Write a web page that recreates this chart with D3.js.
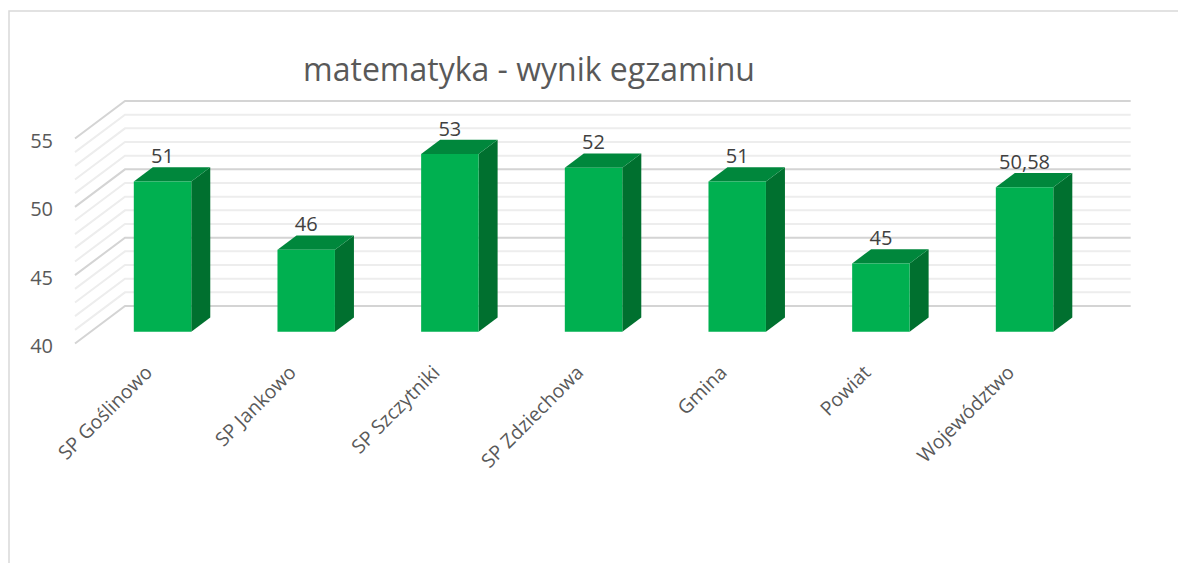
<!DOCTYPE html>
<html>
<head>
<meta charset="utf-8">
<script src="https://cdn.jsdelivr.net/npm/d3@7"></script>
<style>
  html, body { margin: 0; padding: 0; background: #fff; }
  svg text { font-family: "Open Sans", "Noto Sans", sans-serif; fill: #595959; }
</style>
</head>
<body>
<svg id="chart" width="1178" height="563"></svg>
<script>
// data
var categories = ["SP Goślinowo", "SP Jankowo", "SP Szczytniki", "SP Zdziechowa", "Gmina", "Powiat", "Województwo"]
  , values = [51, 46, 53, 52, 51, 45, 50.58]
  , valueLabels = ["51", "46", "53", "52", "51", "45", "50,58"]
  , yTicks = [40, 45, 50, 55]
  , title = "matematyka - wynik egzaminu"
;

var svg = d3.select("#chart")
  , wall = { left: 125, right: 1130.7, top: 101, bottom: 306 }
  , depth = { dx: -50, dy: 37.5 }     // offset from back wall to front of side wall
  , zFront = 0.686, zBack = 0.306     // bar faces, as share of the depth
  , colors = { front: "#00B050", top: "#00873C", side: "#00702F" }
;

var y = d3.scaleLinear().domain([40, 55]).range([wall.bottom, wall.top])
  , x = d3.scaleBand().domain(categories).range([wall.left, wall.right])
        .paddingInner(0.6).paddingOuter(0.3)
;

// project a back-wall point forward by share k of the depth
function proj(px, py, k) { return [px + k * depth.dx, py + k * depth.dy]; }

// chart frame
svg.append("path")
    .attr("d", "M9,563V11H1178")
    .attr("fill", "none")
    .attr("stroke", "#d9d9d9")
    .attr("stroke-width", 1.5)
;

// gridlines: back wall + left side wall
var minor = d3.range(40, 55.001, 1);
var grid = svg.append("g").attr("class", "grid");
grid.selectAll("path")
    .data(minor)
  .enter().append("path")
    .attr("d", function(v) {
        var a = proj(wall.left, y(v), 1);
        return "M" + a + "L" + [wall.left, y(v)] + "H" + wall.right;
      })
    .attr("fill", "none")
    .attr("stroke", function(v) { return v % 5 === 0 ? "#d4d4d4" : "#ededed"; })
    .attr("stroke-width", 2)
;

// y axis labels
svg.append("g").selectAll("text")
    .data(yTicks)
  .enter().append("text")
    .attr("x", 53)
    .attr("y", function(v) { return proj(0, y(v), 1)[1] + 2; })
    .attr("text-anchor", "end")
    .attr("dominant-baseline", "central")
    .style("font-size", "20px")
    .text(function(v) { return v; })
;

// bars
var bars = svg.append("g").selectAll("g")
    .data(categories.map(function(c, i) { return { cat: c, value: values[i], label: valueLabels[i] }; }))
  .enter().append("g")
;

function face(d, pts) {
    return "M" + pts.map(function(p) { return proj(p[0], p[1], p[2]); }).join("L") + "Z";
}

bars.append("path") // side
    .attr("d", function(d) {
        var x1 = x(d.cat) + x.bandwidth();
        return face(d, [[x1, y(40), zFront], [x1, y(d.value), zFront], [x1, y(d.value), zBack], [x1, y(40), zBack]]);
      })
    .attr("fill", colors.side)
;
bars.append("path") // top
    .attr("d", function(d) {
        var x0 = x(d.cat), x1 = x0 + x.bandwidth(), t = y(d.value);
        return face(d, [[x0, t, zFront], [x1, t, zFront], [x1, t, zBack], [x0, t, zBack]]);
      })
    .attr("fill", colors.top)
;
bars.append("path") // front
    .attr("d", function(d) {
        var x0 = x(d.cat), x1 = x0 + x.bandwidth();
        return face(d, [[x0, y(40), zFront], [x0, y(d.value), zFront], [x1, y(d.value), zFront], [x1, y(40), zFront]]);
      })
    .attr("fill", colors.front)
;

// value labels
bars.append("text")
    .attr("x", function(d) { return proj(x(d.cat) + x.bandwidth() / 2, 0, zFront)[0]; })
    .attr("y", function(d) { return proj(0, y(d.value), zBack)[1] - 4; })
    .attr("text-anchor", "middle")
    .style("font-size", "20px")
    .style("fill", "#404040")
    .text(function(d) { return d.label; })
;

// category labels, rotated
svg.append("g").selectAll("text")
    .data(categories)
  .enter().append("text")
    .attr("transform", function(c) {
        var p = proj(x(c) + x.bandwidth() / 2, y(40), zFront);
        return "translate(" + (p[0] - 9) + "," + (p[1] + 42) + ") rotate(-45)";
      })
    .attr("text-anchor", "end")
    .style("font-size", "19.5px")
    .text(function(c) { return c; })
;

// title
svg.append("text")
    .attr("x", 529)
    .attr("y", 81)
    .attr("text-anchor", "middle")
    .style("font-size", "32px")
    .text(title)
;
</script>
</body>
</html>
